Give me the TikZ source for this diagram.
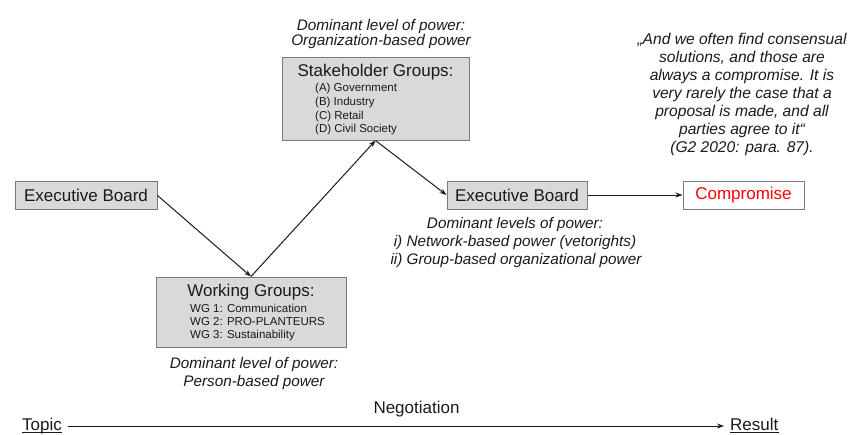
\documentclass[tikz,border=0pt]{standalone}
\usepackage{fontspec}
\setmainfont{Liberation Sans}
\usetikzlibrary{arrows.meta}
\definecolor{boxfill}{HTML}{D9D9D9}
\definecolor{boxline}{HTML}{7A7A7A}
\definecolor{ink}{HTML}{1A1A1A}
\tikzset{
  box/.style={draw=boxline, line width=1pt, fill=boxfill, inner sep=0pt},
  wbox/.style={draw=boxline, line width=1pt, fill=white, inner sep=0pt},
  big/.style={font=\fontsize{17}{20}\selectfont, text=ink, inner sep=0pt},
  small/.style={font=\fontsize{11.5}{14}\selectfont, text=ink, inner sep=0pt, anchor=west},
  lab/.style={font=\fontsize{15.3}{18}\itshape, text=ink, inner sep=0pt},
  conn/.style={line width=1pt, ink, -{Stealth[length=7pt,width=5pt]}},
  uline/.style={line width=0.9pt, ink}
}
\begin{document}
\begin{tikzpicture}[x=1pt,y=-1pt]
\useasboundingbox (0,0) rectangle (849,434);
% boxes
\node[box, minimum width=142pt, minimum height=28pt] (eb1) at (86,195.5) {};
\node[big] (eb1t) at (eb1.center) {Executive Board};
\node[box, minimum width=190pt, minimum height=70pt] (wg) at (251,312) {};
\node[big] (wgt) at (251,292) {Working Groups:};
\node[small] (wg1) at (190,308) {WG 1: Communication};
\node[small] (wg2) at (190,322) {WG 2: PRO-PLANTEURS};
\node[small] (wg3) at (190,336) {WG 3: Sustainability};
\node[box, minimum width=187pt, minimum height=83pt] (sh) at (375.5,98.5) {};
\node[big] (sht) at (375.5,72) {Stakeholder Groups:};
\node[small] (sha) at (315,89) {(A) Government};
\node[small] (shb) at (315,103) {(B) Industry};
\node[small] (shc) at (315,117) {(C) Retail};
\node[small] (shd) at (315,130) {(D) Civil Society};
\node[box, minimum width=140pt, minimum height=28pt] (eb2) at (517,195) {};
\node[big] (eb2t) at (eb2.center) {Executive Board};
\node[wbox, minimum width=121pt, minimum height=28pt] (cp) at (743.5,195) {};
\node[big, text=red] (cpt) at (cp.center) {Compromise};
% labels
\node[lab, anchor=base] (l1a) at (381,30) {Dominant level of power:};
\node[lab, anchor=base] (l1b) at (381,45.5) {Organization-based power};
\node[lab] (l2a) at (254,365) {Dominant level of power:};
\node[lab] (l2b) at (254,383) {Person-based power};
\node[lab] (l3a) at (515,225) {Dominant levels of power:};
\node[lab] (l3b) at (515,243) {i) Network-based power (vetorights)};
\node[lab] (l3c) at (516,261) {ii) Group-based organizational power};
\node[lab, font=\fontsize{15.6}{18.1}\itshape, align=center] (quote) at (742,94.5)
  {„And we often find consensual\\solutions, and those are\\always a compromise. It is\\very rarely the case that a\\proposal is made, and all\\parties agree to it“\\(G2 2020: para. 87).};
% connectors
\draw[conn] (eb1.east) -- (wg.north);
\draw[conn] (wg.north) -- (sh.south);
\draw[conn] (sh.south) -- (eb2.west);
\draw[conn] (eb2.east) -- (cp.west);
% bottom axis
\node[big, anchor=base west] (topic) at (22,430) {Topic};
\node[big, anchor=base west] (result) at (730,430) {Result};
\draw[uline] ([yshift=-2.3pt]topic.base west) -- ([yshift=-2.3pt]topic.base east);
\draw[uline] ([yshift=-2.3pt]result.base west) -- ([yshift=-2.3pt]result.base east);
\node[big] (neg) at (416.5,409) {Negotiation};
\coordinate (axs) at (68,426);
\coordinate (axe) at (724,426);
\draw[conn] (axs) -- (axe);
\end{tikzpicture}
\end{document}
